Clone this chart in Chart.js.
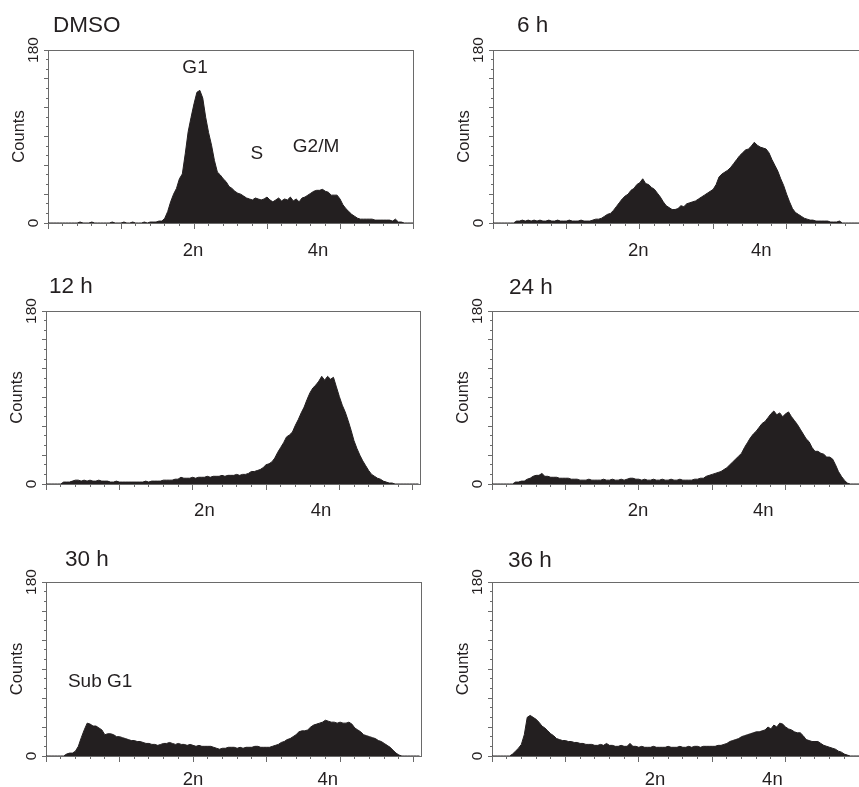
<!DOCTYPE html>
<html><head><meta charset="utf-8">
<script src="https://cdn.jsdelivr.net/npm/chart.js@4.4.1/dist/chart.umd.min.js"></script>
<style>
html,body{margin:0;padding:0;background:#fff;width:859px;height:787px;overflow:hidden;position:relative;}
canvas{position:absolute;}
</style></head><body>
<script>
// ---------- DATA ----------
const bins = [
  0,2,4,6,8,10,12,14,16,18,
  20,22,24,26,28,30,32,34,36,38,
  40,42,44,46,48,50,52,54,56,58,
  60,62,64,66,68,70,72,74,76,78,
  80,82,84,86,88,90,92,94,96,98,
  100,102,104,106,108,110,112,114,116,118,
  120,122,124,126,128,130,132,134,136,138,
  140,142,144,146,148,150,152,154,156,158,
  160,162,164,166,168,170,172,174,176,178,
  180,182,184,186,188,190,192,194,196,198,
  200,202,204,206,208,210,212,214,216,218,
  220,222,224,226,228,230,232,234,236,238,
  240,242,244,246,248,250,252,254];

const countsDMSO = [
  0,0,0,0,0,0,0,0,0,0,
  0,1,0,0,0,1,0,0,0,0,
  0,0,1,0,0,0,1,0,0,1,
  0,0,0,1,0,1,1,1,2,2,
  5,12,22,30,36,46,51,72,95,110,
  124,136,138,130,110,94,81,65,53,50,
  46,43,38,36,33,31,30,28,26,25,
  24,26,25,24,25,27,24,22,24,26,
  23,25,24,27,23,25,22,26,27,29,
  31,33,34,34,35,33,32,29,29,29,
  25,19,15,12,9,7,5,4,4,4,
  4,4,3,3,3,3,3,3,2,4,
  1,1,0,0,0,0,0,0];

const counts6h = [
  0,0,0,0,0,0,0,0,2,2,
  3,2,3,2,3,2,3,2,2,3,
  2,2,3,2,2,2,3,2,2,2,
  3,2,2,2,3,4,4,5,7,9,
  10,13,17,21,25,28,30,34,36,40,
  42,46,41,40,37,35,31,27,22,18,
  16,14,14,15,18,17,20,21,22,23,
  25,27,29,31,33,35,40,48,51,53,
  55,58,62,66,70,73,76,77,80,84,
  81,79,78,77,73,66,60,54,46,39,
  30,22,15,11,9,7,5,4,3,3,
  2,2,2,2,2,1,1,1,2,0,
  0,0,0,0,0,0,0,0];

const counts12h = [
  0,0,0,0,0,0,2,2,2,3,
  4,4,3,4,3,4,3,3,4,3,
  3,3,2,2,3,2,2,2,2,2,
  2,2,2,2,3,2,3,3,3,3,
  4,4,4,4,5,5,7,6,6,6,
  7,6,7,7,7,8,7,8,8,8,
  9,8,9,9,9,10,9,10,10,11,
  13,13,14,15,17,20,21,23,27,33,
  38,43,49,51,54,61,67,74,80,88,
  95,100,103,107,112,108,112,109,111,101,
  91,82,75,66,56,45,37,30,24,19,
  14,10,8,6,5,3,2,1,1,0,
  0,0,0,0,0,0,0,0];

const counts24h = [
  0,0,0,0,0,0,0,0,2,2,
  3,3,5,6,8,9,9,11,8,8,
  7,7,7,6,6,6,6,5,5,5,
  4,4,4,5,4,4,4,4,5,4,
  4,5,4,4,5,4,5,6,6,5,
  5,4,5,4,4,5,4,4,5,4,
  4,5,4,4,5,4,4,4,4,5,
  5,6,6,8,9,10,11,12,13,15,
  17,20,23,26,29,32,38,43,48,52,
  55,59,63,65,69,73,76,72,74,70,
  73,75,70,66,62,57,52,47,44,38,
  34,34,32,31,28,28,26,20,13,8,
  4,1,0,0,0,0,0,0];

const counts30h = [
  0,0,0,0,0,0,0,2,3,3,
  5,10,19,27,34,33,31,31,29,27,
  22,23,23,22,20,20,19,18,17,16,
  16,15,15,14,13,13,12,12,11,12,
  13,13,14,13,12,13,12,12,11,12,
  11,10,11,10,10,10,10,9,8,7,
  8,8,9,9,9,8,9,8,9,9,
  9,10,10,9,9,9,9,10,11,12,
  14,15,17,18,20,22,25,26,26,27,
  30,32,33,34,35,37,36,35,35,34,
  35,34,34,35,33,29,27,25,22,21,
  20,19,18,16,15,13,11,9,6,3,
  1,0,0,0,0,0,0,0];

const counts36h = [
  0,0,0,0,0,0,0,2,5,8,
  12,22,40,42,40,38,35,31,29,26,
  23,21,18,17,16,16,15,15,14,14,
  13,13,12,12,12,11,11,12,11,13,
  11,11,10,10,11,10,10,13,10,10,
  9,10,9,9,9,10,9,9,9,9,
  10,9,9,9,10,9,9,10,9,10,
  10,9,10,10,10,10,10,11,11,12,
  13,15,16,17,18,20,21,22,23,24,
  25,25,26,27,30,28,32,30,34,33,
  30,28,27,25,24,24,21,17,16,15,
  15,15,13,11,10,9,8,7,5,4,
  2,1,0,0,0,0,0,0];

const panelTitles = ['DMSO', '6 h', '12 h', '24 h', '30 h', '36 h'];
const panelCounts = [countsDMSO, counts6h, counts12h, counts24h, counts30h, counts36h];

const yTicks = [0, 30, 60, 90, 120, 150, 180];
const yMinorTicks = [0,10,20,30,40,50,60,70,80,90,100,110,120,130,140,150,160,170,180];
const yTickLabels = {0: '0', 180: '180'};
const yAxisTitle = 'Counts';
const xMinorTicks = [0,10,20,30,40,50,60,70,80,90,100,110,120,130,140,150,160,170,180,190,200,210,220,230,240,250];
const xMajorTicks = [0, 50, 100, 150, 200, 250];
const xLabelText = ['2n', '4n'];
const xLabelPos = [[99.3,185],[98.9,182.7],[108,187.5],[99.5,184.8],[100,191.6],[111,191]];

const noteText = [['G1','S','G2/M'], [], [], [], ['Sub G1'], []];
const noteX = [[100.7,143,183.6], [], [], [], [36.8], []];
const noteY = [[162,72,79], [], [], [], [76.5], []];

// ---------- LAYOUT / STYLE ----------
const frames = [
  {left:48,  top:50,  w:365, h:173, xMax:250, tdx:5,  tdy:18, lpad:11.5},
  {left:493, top:50,  w:367, h:173, xMax:250, tdx:24, tdy:18, lpad:11.5},
  {left:46,  top:311, w:374, h:173, xMax:255, tdx:3,  tdy:18, lpad:11},
  {left:492, top:311, w:367, h:173, xMax:250, tdx:17, tdy:17, lpad:11},
  {left:46,  top:582, w:375, h:174, xMax:255, tdx:19, tdy:16, lpad:8},
  {left:492, top:582, w:367, h:174, xMax:250, tdx:16, tdy:15, lpad:8}
];
const INK = '#231f20';
const BOX = '#6a6a6a';
const FONT = '"Liberation Sans", Arial, Helvetica, sans-serif';
const Y_W = 48, TOP_PAD = 50, BOT_H = 40;

Chart.defaults.font.family = FONT;
Chart.defaults.color = INK;

const panelText = {
  id: 'panelText',
  afterDraw(chart, args, o) {
    const {ctx, chartArea, scales} = chart;
    ctx.save();
    ctx.fillStyle = INK;
    ctx.font = '22.5px ' + FONT;
    ctx.textAlign = 'left';
    ctx.textBaseline = 'alphabetic';
    ctx.fillText(o.title, chartArea.left + o.dx, chartArea.top - o.dy);
    ctx.font = '19px ' + FONT;
    ctx.textAlign = 'center';
    ctx.textBaseline = 'middle';
    o.notes.forEach(n => {
      ctx.fillText(n.text, scales.x.getPixelForValue(n.x), scales.y.getPixelForValue(n.y));
    });
    ctx.restore();
  }
};

frames.forEach((f, p) => {
  const cv = document.createElement('canvas');
  const cw = Y_W + f.w + 1, ch = TOP_PAD + f.h + BOT_H;
  cv.width = cw; cv.height = ch;
  cv.style.left = (f.left - Y_W) + 'px';
  cv.style.top = (f.top - TOP_PAD) + 'px';
  cv.style.width = cw + 'px'; cv.style.height = ch + 'px';
  document.body.appendChild(cv);

  const data = bins.map((b, i) => ({x: b, y: panelCounts[p][i]}));
  const notes = noteText[p].map((t, i) => ({text: t, x: noteX[p][i], y: noteY[p][i]}));
  const setTicks = (arr) => (s) => { s.ticks = arr.map(v => ({value: v})); };

  new Chart(cv, {
    type: 'line',
    data: { datasets: [{
      data,
      borderColor: INK, borderWidth: 1, backgroundColor: INK,
      fill: 'origin', pointRadius: 0, tension: 0
    }]},
    options: {
      responsive: false, devicePixelRatio: 1, animation: false, events: [],
      layout: { padding: {left: 0, top: TOP_PAD, right: 1, bottom: 0} },
      plugins: {
        legend: {display: false}, tooltip: {enabled: false}, title: {display: false},
        panelText: {title: panelTitles[p], dx: f.tdx, dy: f.tdy, notes}
      },
      scales: {
        x: {
          type: 'linear', position: 'bottom', min: 0, max: f.xMax, weight: 0,
          afterBuildTicks: setTicks(xMinorTicks),
          afterFit: (s) => { s.height = 5; },
          ticks: {display: false, autoSkip: false},
          grid: {drawOnChartArea: false, drawTicks: true, tickLength: 3, color: BOX, tickColor: BOX},
          border: {display: true, color: BOX, width: 1}
        },
        xMaj: {
          type: 'linear', position: {y: 0}, min: 0, max: f.xMax,
          afterBuildTicks: setTicks(xMajorTicks),
          ticks: {display: false, autoSkip: false},
          grid: {drawOnChartArea: false, drawTicks: true, tickLength: 6, color: BOX, tickColor: BOX},
          border: {display: false}
        },
        xLab: {
          type: 'linear', position: 'bottom', min: 0, max: f.xMax, weight: 1,
          afterBuildTicks: setTicks(xLabelPos[p]),
          afterFit: (s) => { s.height = BOT_H - 5; },
          ticks: {
            autoSkip: false, maxRotation: 0, padding: f.lpad,
            font: {size: 18.5}, color: INK,
            callback: (v, i) => xLabelText[i]
          },
          grid: {display: false, drawTicks: false},
          border: {display: false}
        },
        x2: {
          type: 'linear', position: 'top', min: 0, max: f.xMax,
          afterFit: (s) => { s.height = 0; },
          ticks: {display: false},
          grid: {display: false, drawTicks: false},
          border: {display: true, color: BOX, width: 1}
        },
        y: {
          type: 'linear', position: 'left', min: 0, max: 180,
          afterBuildTicks: setTicks(yTicks),
          afterFit: (s) => { s.width = Y_W; },
          ticks: {
            autoSkip: false, minRotation: 90, maxRotation: 90,
            crossAlign: 'center', padding: -3,
            font: {size: 15.5}, color: INK,
            callback: (v) => (yTickLabels[v] !== undefined ? yTickLabels[v] : '')
          },
          title: {display: true, text: yAxisTitle, font: {size: 16.5}, color: INK, padding: {top: 10, bottom: 0}},
          grid: {drawOnChartArea: false, drawTicks: true, tickLength: 4, color: BOX, tickColor: BOX},
          border: {display: true, color: BOX, width: 1}
        },
        yMin: {
          type: 'linear', position: {x: 0}, min: 0, max: 180,
          afterBuildTicks: setTicks(yMinorTicks),
          ticks: {display: false, autoSkip: false},
          grid: {drawOnChartArea: false, drawTicks: true, tickLength: 2, color: BOX, tickColor: BOX},
          border: {display: false}
        },
        y2: {
          type: 'linear', position: 'right', min: 0, max: 180,
          afterFit: (s) => { s.width = 0; },
          ticks: {display: false},
          grid: {display: false, drawTicks: false},
          border: {display: true, color: BOX, width: 1}
        }
      }
    },
    plugins: [panelText]
  });
});
</script>
</body></html>
